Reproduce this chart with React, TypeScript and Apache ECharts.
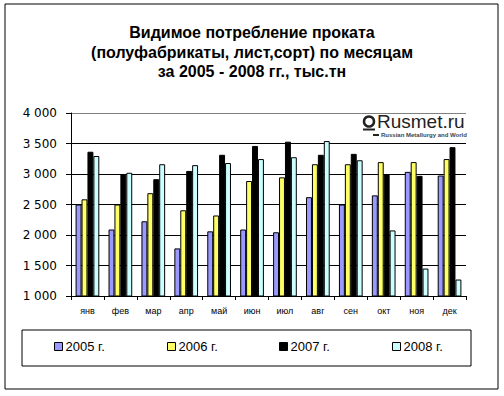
import React, { useEffect, useRef } from "react";
import * as echarts from "echarts";

const months = ["янв", "фев", "мар", "апр", "май", "июн", "июл", "авг", "сен", "окт", "ноя", "дек"];
const seriesNames = ["2005 г.", "2006 г.", "2007 г.", "2008 г."];
const y2005 = [2500, 2090, 2225, 1780, 2060, 2090, 2045, 2620, 2500, 2650, 3035, 2975];
const y2006 = [2585, 2500, 2685, 2405, 2320, 2885, 2945, 3160, 3160, 3195, 3195, 3245];
const y2007 = [3365, 3000, 2915, 3050, 3315, 3460, 3530, 3315, 3330, 3000, 2970, 3440];
const y2008 = [3295, 3020, 3160, 3145, 3180, 3245, 3275, 3540, 3225, 2075, 1450, 1270];
const colors = ["#9999FF", "#FFFF66", "#000000", "#CCFFFF"];
const titleLines = [
  "Видимое потребление проката",
  "(полуфабрикаты, лист,сорт) по месяцам",
  "за 2005 - 2008 гг., тыс.тн",
];

const fmt = (v: number) => String(v).replace(/\B(?=(\d{3})+(?!\d))/g, " ");

export default function App() {
  const ref = useRef<HTMLDivElement>(null);
  useEffect(() => {
    if (!ref.current) return;
    const chart = echarts.init(ref.current, null, { renderer: "svg" });
    const data = [y2005, y2006, y2007, y2008];
    const legendLefts = [54, 167, 279, 392];
    chart.setOption({
      animation: false,
      backgroundColor: "#ffffff",
      title: {
        text: titleLines.join("\n"),
        left: "center",
        top: 18,
        textStyle: {
          fontFamily: "Liberation Sans",
          fontSize: 16,
          fontWeight: "bold",
          color: "#000",
          lineHeight: 19.5,
        },
      },
      grid: { left: 71, right: 38, top: 113, bottom: 100, containLabel: false },
      xAxis: {
        type: "category",
        data: months,
        boundaryGap: true,
        axisLine: { lineStyle: { color: "#000", width: 1 } },
        axisTick: { show: true, alignWithLabel: false, length: 4, lineStyle: { color: "#000" } },
        axisLabel: { fontFamily: "Liberation Sans", fontSize: 9, color: "#000", margin: 10 },
      },
      yAxis: {
        type: "value",
        min: 1000,
        max: 4000,
        interval: 500,
        axisLine: { show: true, lineStyle: { color: "#000", width: 1 } },
        axisTick: { show: true, length: 5, lineStyle: { color: "#000" } },
        axisLabel: {
          fontFamily: "DejaVu Sans",
          fontSize: 12,
          color: "#000",
          margin: 14,
          formatter: (v: number) => fmt(v),
        },
        splitLine: {
          show: true,
          lineStyle: {
            color: ["#000", "#000", "#000", "#000", "#000", "#000", "#808080"],
            width: 1,
          },
        },
      },
      legend: seriesNames.map((n, i) => ({
        data: [n],
        left: legendLefts[i],
        top: 340,
        padding: 0,
        itemWidth: 8,
        itemHeight: 8,
        itemGap: 3,
        icon: "rect",
        itemStyle: { borderColor: "#000", borderWidth: 1 },
        textStyle: { fontFamily: "Liberation Sans", fontSize: 13, color: "#000", padding: [0, 0, 0, -2] },
      })),
      series: seriesNames.map((n, i) => ({
        name: n,
        type: "bar",
        data: data[i],
        barGap: "0%",
        barCategoryGap: "28%",
        itemStyle: { color: colors[i], borderColor: "#000", borderWidth: 1 },
      })),
      graphic: [
        {
          type: "rect",
          shape: { x: 5, y: 4, width: 493, height: 385 },
          style: { fill: "none", stroke: "#000", lineWidth: 1 },
          z: 100,
        },
        {
          type: "rect",
          shape: { x: 22, y: 330, width: 449, height: 36 },
          style: { fill: "none", stroke: "#000", lineWidth: 1 },
          z: 100,
        },
        {
          type: "group",
          z: 100,
          children: [
            { type: "rect", shape: { x: 357, y: 114, width: 110, height: 28 }, style: { fill: "#fff" } },
            { type: "circle", shape: { cx: 369, cy: 121.5, r: 5 }, style: { fill: "none", stroke: "#222", lineWidth: 2.5 } },
            { type: "rect", shape: { x: 363, y: 128.5, width: 12, height: 2 }, style: { fill: "#222" } },
            { type: "rect", shape: { x: 373, y: 134, width: 6, height: 2 }, style: { fill: "#222" } },
            {
              type: "text",
              x: 377,
              y: 112,
              style: { text: "Rusmet.ru", font: "19px 'Liberation Sans'", fill: "#222" },
            },
            {
              type: "text",
              x: 381,
              y: 132,
              style: { text: "Russian Metallurgy and World", font: "bold 6px 'Liberation Sans'", fill: "#444" },
            },
          ],
        },
      ],
    });
    return () => chart.dispose();
  }, []);
  return <div ref={ref} style={{ width: 504, height: 396, position: "absolute", left: 0, top: 0 }} />;
}
